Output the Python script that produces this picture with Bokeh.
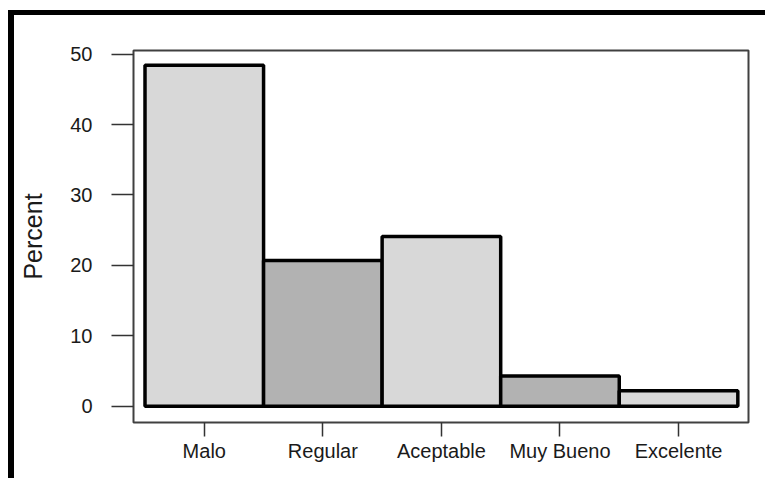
from bokeh.plotting import figure
from bokeh.models import Range1d, FixedTicker, ColumnDataSource
from bokeh.embed import file_html
from bokeh.resources import INLINE

categories = ["Malo", "Regular", "Aceptable", "Muy Bueno", "Excelente"]
percent = [48.4, 20.7, 24.1, 4.3, 2.2]
bar_colors = ["#d8d8d8", "#b2b2b2", "#d8d8d8", "#b2b2b2", "#d8d8d8"]
y_ticks = [0, 10, 20, 30, 40, 50]

positions = [i + 0.5 for i in range(len(categories))]
src = ColumnDataSource(dict(x=positions, top=percent, color=bar_colors))

p = figure(
    frame_width=615, frame_height=372,
    min_border_left=119, min_border_right=17,
    min_border_top=35, min_border_bottom=56,
    x_range=Range1d(-0.097, 5.09), y_range=Range1d(-2.3, 50.51),
    output_backend="svg", toolbar_location=None,
    background_fill_color="white", border_fill_color="white",
)
p.styles = {"border-top": "5px solid black", "border-left": "6px solid black",
            "margin-top": "10px", "margin-left": "8px"}

p.vbar(x="x", top="top", bottom=0, width=1.0, source=src,
       fill_color="color", line_color="black", line_width=3.5)

p.grid.visible = False
p.outline_line_color = "#404040"
p.outline_line_width = 2

font = "Liberation Sans"
p.xaxis.ticker = FixedTicker(ticks=positions)
p.xaxis.major_label_overrides = {pos: c for pos, c in zip(positions, categories)}
p.yaxis.ticker = FixedTicker(ticks=y_ticks)
for ax in (p.xaxis, p.yaxis):
    ax.axis_line_color = None
    ax.minor_tick_line_color = None
    ax.major_tick_line_color = "#333333"
    ax.major_tick_line_width = 1.5
    ax.major_tick_in = 0
    ax.major_label_text_font = font
    ax.major_label_text_font_size = "20px"
    ax.major_label_text_color = "#1a1a1a"
p.xaxis.major_tick_out = 14
p.xaxis.major_label_standoff = 3
p.yaxis.major_tick_out = 22
p.yaxis.major_label_standoff = 19
p.yaxis.axis_label = "Percent"
p.yaxis.axis_label_text_font = font
p.yaxis.axis_label_text_font_size = "25px"
p.yaxis.axis_label_text_font_style = "normal"
p.yaxis.axis_label_text_color = "#1a1a1a"
p.yaxis.axis_label_standoff = 20

open("out.html", "w").write(file_html(p, INLINE))
